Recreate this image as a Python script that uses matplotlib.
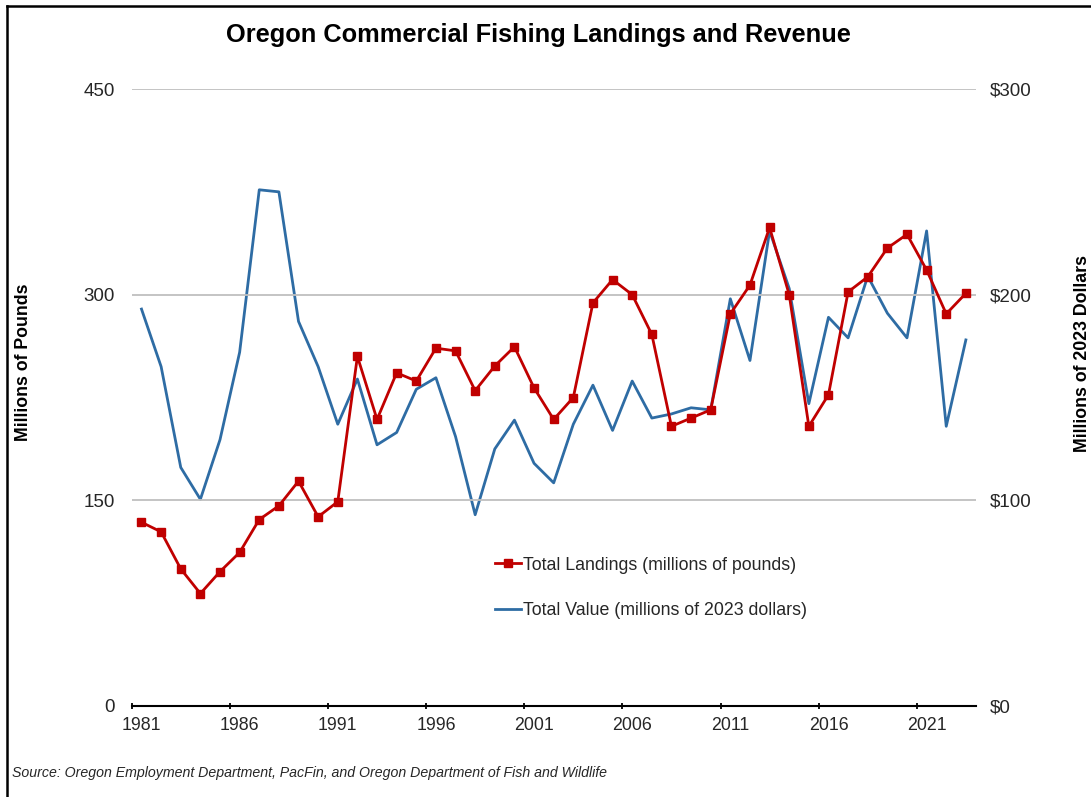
import numpy as np
import matplotlib
matplotlib.use("Agg")
from matplotlib import pyplot as plt
from matplotlib.lines import Line2D

plt.rcParams['font.family'] = ['Liberation Sans', 'DejaVu Sans']

years = np.arange(1981, 2024)

# total landings, millions of pounds (left axis)
landings = [134, 127, 100, 82, 98, 112, 136, 146, 164, 138,
            149, 255, 209, 243, 237, 261, 259, 230, 248, 262,
            232, 209, 225, 294, 311, 300, 271, 204, 210, 216,
            286, 307, 349, 300, 204, 227, 302, 313, 334, 344,
            318, 286, 301]

# total value, millions of 2023 dollars (right axis)
value = [193, 165, 116, 100.5, 129.5, 172, 251, 250, 187, 165,
         137, 159, 127, 133, 154, 159.6, 131, 93, 125, 139,
         118, 108.5, 137, 156, 134, 158, 140, 142, 145, 144,
         198, 168, 231, 203, 147, 189, 179, 209, 191, 179,
         231, 136, 178]

left_ticks = [0, 150, 300, 450]
right_ticks = [0, 100, 200, 300]
tick_years = years[::5]

red = '#c00000'
blue = '#2e6ca4'
txt = '#262626'

fig = plt.figure(figsize=(10.91, 7.97), dpi=100)
ax = fig.add_axes([0.1207, 0.1142, 0.7736, 0.7741])
ax2 = ax.twinx()

ax2.plot(years, value, color=blue, lw=2.0, zorder=2)
ax.plot(years, landings, color=red, lw=2.0, marker='s', ms=6, zorder=3)

# landings line sits above the value line
ax.set_zorder(ax2.get_zorder() + 1)
ax.patch.set_visible(False)

ax.set_xlim(1980.5, 2023.5)
ax.set_ylim(0, 450)
ax2.set_ylim(0, 300)

ax.set_yticks(left_ticks)
ax.set_yticklabels([str(t) for t in left_ticks])
ax2.set_yticks(right_ticks)
ax2.set_yticklabels(['$' + str(t) for t in right_ticks])

for t in left_ticks[1:]:
    ax.axhline(t, color='#bfbfbf', lw=1.3, zorder=0)

# year labels centred on points, tick marks between categories
ax.set_xticks(tick_years)
ax.set_xticklabels([str(y) for y in tick_years])
ax.set_xticks(tick_years - 0.5, minor=True)
ax.tick_params(axis='x', which='major', length=0, pad=8,
               labelsize=12.8, labelcolor=txt)
ax.tick_params(axis='x', which='minor', length=5, width=1.3,
               direction='inout', color='black')

ax.tick_params(axis='y', length=0, pad=12, labelsize=13.5, labelcolor=txt)
ax2.tick_params(axis='y', length=0, pad=10, labelsize=13.5, labelcolor=txt)

for a in (ax, ax2):
    for s in ('top', 'left', 'right'):
        a.spines[s].set_visible(False)
ax2.spines['bottom'].set_visible(False)
ax.spines['bottom'].set_linewidth(1.5)
ax.spines['bottom'].set_color('black')

ax.set_ylabel('Millions of Pounds', fontsize=12.8, fontweight='bold')
ax.yaxis.set_label_coords(-0.1185, 0.557)
ax2.set_ylabel('Millions of 2023 Dollars', fontsize=12.8, fontweight='bold')
ax2.yaxis.set_label_coords(1.1165, 0.572)

fig.text(0.4935, 0.956, 'Oregon Commercial Fishing Landings and Revenue',
         ha='center', va='center', fontsize=18.3, fontweight='bold',
         color='black')

handles = [Line2D([], [], color=red, lw=2.0, marker='s', ms=6),
           Line2D([], [], color=blue, lw=2.0)]
fig.legend(handles,
           ['Total Landings (millions of pounds)',
            'Total Value (millions of 2023 dollars)'],
           loc='upper left', bbox_to_anchor=(0.446, 0.3128),
           frameon=False, fontsize=12.8, handlelength=1.45,
           handletextpad=0.12, labelspacing=1.62, borderpad=0,
           labelcolor=txt)

fig.text(0.011, 0.030,
         'Source: Oregon Employment Department, PacFin, and Oregon '
         'Department of Fish and Wildlife',
         ha='left', va='center', fontsize=10.2, style='italic', color=txt)

# outer frame, top and left edges
fig.add_artist(Line2D([0.0064, 0.0064], [0.0, 0.9925], color='black',
                      lw=1.8, transform=fig.transFigure))
fig.add_artist(Line2D([0.0064, 1.0], [0.9925, 0.9925], color='black',
                      lw=1.8, transform=fig.transFigure))

fig.savefig('out.png', dpi=100)
